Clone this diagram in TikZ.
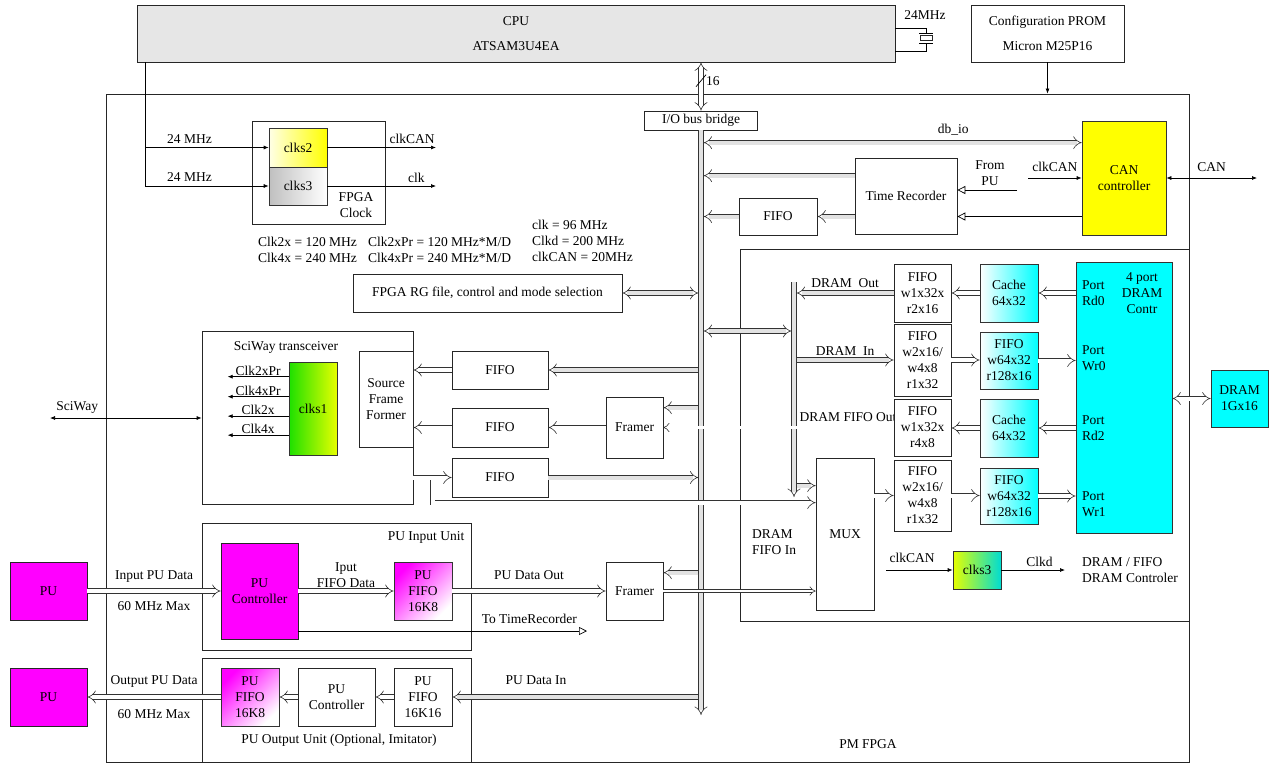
\documentclass[tikz,border=0pt]{standalone}
\usepackage{fontspec}
\setmainfont{Liberation Serif}
\usepackage{xcolor}
\definecolor{cpugray}{HTML}{E6E6E6}
\definecolor{busgray}{HTML}{E2E2E2}
\definecolor{edgegray}{HTML}{333333}
\definecolor{canyellow}{HTML}{FFFF00}
\definecolor{dramcyan}{HTML}{00FFFF}
\definecolor{pumag}{HTML}{FF00FF}
\definecolor{clkgreen}{HTML}{1EE000}
\definecolor{clklime}{HTML}{E6FF00}
\definecolor{clkteal}{HTML}{00DCD2}
\usepackage{tikz}
\usetikzlibrary{arrows.meta,positioning,calc}

\begin{document}
\begin{tikzpicture}[x=1pt,y=-1pt,
  font=\fontsize{13.5}{16}\selectfont,
  every node/.style={inner sep=1pt},
  sz/.style 2 args={minimum width=#1pt,minimum height=#2pt},
  box/.style={draw=black!85,line width=0.7pt,fill=white,align=center,inner sep=1pt},
  cbox/.style={box,draw=edgegray,left color=white,right color=dramcyan},
  mbox/.style={box,draw=edgegray,top color=pumag,bottom color=white,shading angle=45},
  bus/.style={draw=black!80,line width=0.6pt,double=busgray,double distance=4pt,-{Implies}},
  link/.style={bus,double=white},
  bibus/.style={bus,{Implies}-{Implies}},
  bilink/.style={link,{Implies}-{Implies}},
  thinlink/.style={link,double distance=2.6pt},
  arr/.style={line width=0.7pt,-{Latex[length=5pt,width=4pt]}},
  biarr/.style={line width=0.7pt,{Latex[length=5pt,width=4pt]}-{Latex[length=5pt,width=4pt]}},
  tri/.style={line width=0.7pt,-{Triangle[open,length=8pt,width=8pt]}}
]
\useasboundingbox (0,0) rectangle (1271,764);

% frames
\node[box,sz={1083}{668},line width=0.9pt] (fpga) at (647.5,428) {};
\node[box,sz={449}{372}] (drsys) at (964.5,435) {};
\node[box,sz={133}{103}] (clkbox) at (318.5,172.5) {};
\node[box,sz={211}{173}] (sci) at (307.5,417.5) {};
\node[box,sz={269}{127}] (puin) at (336.5,586.5) {};
\node[box,sz={269}{104}] (puout) at (336.5,710) {};

% outside the FPGA
\node[box,sz={758}{57},fill=cpugray] (cpu) at (516,33.5) {CPU\\[9pt]ATSAM3U4EA};
\node[box,sz={153}{57}] (prom) at (1047.5,33.5) {Configuration PROM\\[9pt]Micron M25P16};
\node at (925,15) {24MHz};
% crystal
\draw[line width=0.7pt] (cpu.east |- 0,28) -- (926,28) -- (926,33);
\draw[line width=0.7pt] (919,33) -- (933,33);
\node[box,sz={12}{5},inner sep=0pt] (xtal) at (926,38) {};
\draw[line width=0.7pt] (919,43) -- (933,43);
\draw[line width=0.7pt] (926,43) -- (926,51) -- (cpu.east |- 0,51);

\node[box,sz={77}{58},fill=pumag] (puA) at (48.5,591) {PU};
\node[box,sz={77}{58},fill=pumag] (puB) at (48.5,697) {PU};
\node[box,sz={57}{57},fill=dramcyan,draw=edgegray] (dram) at (1239.5,398.5) {DRAM\\1Gx16};

% clock block
\node[box,sz={58}{39},draw=edgegray,left color=yellow!10,right color=canyellow] (clks2) at (298,147.5) {clks2};
\node[box,sz={58}{38},draw=edgegray,left color=black!25,right color=white] (clks3) at (298,186) {clks3};
\node[align=center] at (356,205) {FPGA\\Clock};
\node[anchor=west,align=left] at (257,250) {Clk2x = 120 MHz\\Clk4x = 240 MHz};
\node[anchor=west,align=left] at (367,250) {Clk2xPr = 120 MHz*M/D\\Clk4xPr = 240 MHz*M/D};
\node[anchor=west,align=left] at (531,241) {clk = 96 MHz\\Clkd = 200 MHz\\clkCAN = 20MHz};

% bus bridge, CAN, time recorder
\node[box,sz={113}{19}] (bridge) at (701,120.5) {I/O bus bridge};
\node[box,sz={102}{76}] (tr) at (906,196) {Time Recorder};
\node[box,sz={78}{37}] (fifoT) at (778,216.5) {FIFO};
\node[box,sz={84}{114},draw=edgegray,fill=canyellow] (can) at (1124,178) {CAN\\controller};
\node[align=center] at (990,173) {From\\PU};
\node[box,sz={269}{38}] (rg) at (487.5,293) {FPGA RG file, control and mode selection};

% SciWay transceiver
\node at (286,347) {SciWay transceiver};
\node[box,sz={54}{96}] (sff) at (386,399) {Source\\Frame\\Former};
\node[box,sz={48}{93},draw=edgegray,left color=clkgreen,right color=clklime] (clks1) at (313,408.5) {clks1};
\node[box,sz={96}{38}] (fifoU) at (500,370) {FIFO};
\node[box,sz={96}{39}] (fifoM) at (500,427.5) {FIFO};
\node[box,sz={96}{39}] (fifoL) at (500,477.5) {FIFO};
\node[box,sz={57}{61}] (framerA) at (634.5,427.5) {Framer};
\node[box,sz={57}{58}] (framerB) at (634.5,591) {Framer};

% DRAM subsystem
\node at (848,417) {DRAM FIFO Out};
\node[box,sz={58}{152}] (mux) at (845,534) {MUX};
\node[anchor=west,align=left] at (751,542.5) {DRAM\\FIFO In};
\node[box,sz={57}{58}] (fifoA) at (922.5,293) {FIFO\\w1x32x\\r2x16};
\node[box,sz={57}{72}] (fifoB) at (922.5,360) {FIFO\\w2x16/\\w4x8\\r1x32};
\node[box,sz={57}{57}] (fifoC) at (922.5,427.5) {FIFO\\w1x32x\\r4x8};
\node[box,sz={57}{71}] (fifoD) at (922.5,495.5) {FIFO\\w2x16/\\w4x8\\r1x32};
\node[cbox,sz={58}{58}] (cacheA) at (1009,293) {Cache\\64x32};
\node[cbox,sz={58}{57}] (wfifoB) at (1009,360.5) {FIFO\\w64x32\\r128x16};
\node[cbox,sz={58}{58}] (cacheC) at (1009,428) {Cache\\64x32};
\node[cbox,sz={58}{56}] (wfifoD) at (1009,496) {FIFO\\w64x32\\r128x16};
\node[box,sz={96}{271},draw=edgegray,fill=dramcyan] (ctrl) at (1124,397.5) {};
\node[align=center] at (1142,293) {4 port\\DRAM\\Contr};
\foreach \py/\pname in {293/Rd0,358/Wr0,428/Rd2,504.5/Wr1}
  \node[anchor=west,align=left] at (1081,\py) {Port\\\pname};
\node[box,sz={48}{38},draw=edgegray,left color=clklime,right color=clkteal] (clks3b) at (977,570) {clks3};
\node[anchor=west,align=left] at (1081,570) {DRAM / FIFO\\DRAM Controler};

% PU units
\node at (426,537) {PU Input Unit};
\node[box,sz={77}{96},fill=pumag] (puc) at (259.5,591) {PU\\Controller};
\node[mbox,sz={58}{58}] (pufA) at (423,591) {PU\\FIFO\\16K8};
\node[mbox,sz={58}{58}] (pufB) at (250,697) {PU\\FIFO\\16K8};
\node[box,sz={77}{58}] (pucB) at (336.5,697) {PU\\Controller};
\node[box,sz={58}{58}] (pufK) at (423,697) {PU\\FIFO\\16K16};
\node at (339,740) {PU Output Unit (Optional, Imitator)};
\node at (868,744) {PM FPGA};

% main and DRAM buses
\coordinate (busend) at (701,715);
\coordinate (busL) at (698.4,0);
\coordinate (busR) at (703.6,0);
\draw[bus] (bridge.south) -- (busend);
\coordinate (sbtop) at (794,282);
\coordinate (sbend) at (794,497);
\coordinate (sbL) at (791.4,0);
\coordinate (sbR) at (796.6,0);
\draw[bus] (sbtop) -- (sbend);

% CPU side
\draw[bilink] (cpu.south -| bridge) -- coordinate[pos=0.38] (w16) (bridge.north);
\draw[line width=0.7pt] ([shift={(-5,6)}]w16) -- ([shift={(5,-6)}]w16);
\node[right=4pt] at (w16) {16};
\draw[arr] (prom.south) -- (prom.south |- fpga.north);
\coordinate (cpuclk) at (145,62);
\draw[arr] (cpuclk |- clks2) -- node[pos=0.36,above=3pt] {24 MHz} (clks2.west);
\draw[arr] (cpuclk) |- node[pos=0.68,above=3pt] {24 MHz} (clks3.west);
\coordinate (clkcano) at (436,147.5);
\coordinate (clko) at (436,186);
\draw[arr] (clks2.east) -- node[pos=0.78,above=3pt] {clkCAN} (clkcano);
\draw[arr] (clks3.east) -- node[pos=0.82,above=2.5pt] {clk} (clko);

% CAN and time recorder
\coordinate (dbio) at ([yshift=-22pt]can.north west);
\draw[bibus] (dbio -| busR) -- node[pos=0.66,above=6pt] {db\_io} (dbio);
\coordinate (trout) at ([yshift=-18pt]tr.north west);
\draw[bus] (trout) -- (trout -| busR);
\draw[bus] (tr.west |- fifoT) -- (fifoT.east);
\draw[bus] (fifoT.west) -- (fifoT.west -| busR);
\coordinate (frompu) at (1017,190);
\draw[tri] (frompu) -- (frompu -| tr.east);
\coordinate (clkcan) at (1028,178);
\draw[arr] (clkcan) -- node[above=5pt] {clkCAN} (clkcan -| can.west);
\draw[tri] (can.west |- fifoT) -- (tr.east |- fifoT);
\coordinate (canext) at (1257,178);
\draw[biarr] (can.east) -- node[above=5pt] {CAN} (canext);
\draw[bibus] (rg.east) -- (rg.east -| busL);

% DRAM subsystem links
\coordinate (xlink) at (703.6,331);
\draw[bibus] (xlink) -- (xlink -| sbL);
\draw[bus] (fifoA.west) -- node[above=4pt] {DRAM~~Out} (fifoA.west -| sbR);
\draw[bus] (fifoB.west -| sbR) -- node[above=3.5pt] {DRAM~~In} (fifoB.west);
\coordinate (muxa) at ([yshift=-28pt]mux.north west);
\draw[bus] (muxa -| sbR) -- (muxa);
\draw[link] (mux.east |- fifoD) -- (fifoD.west);
\draw[link] (ctrl.west |- cacheA) -- (cacheA.east);
\draw[link] (cacheA.west) -- (fifoA.east);
\draw[link] (fifoB.east) -- (fifoB.east -| wfifoB.west);
\draw[link] (wfifoB.east) -- (wfifoB.east -| ctrl.west);
\draw[link] (ctrl.west |- cacheC) -- (cacheC.east);
\draw[link] (cacheC.west) -- (cacheC.west -| fifoC.east);
\draw[link] (fifoD.east) -- (fifoD.east -| wfifoD.west);
\draw[link] (wfifoD.east) -- (wfifoD.east -| ctrl.west);
\draw[bilink] (ctrl.east |- dram) -- (dram.west);
\coordinate (clkcanb) at (886,570);
\coordinate (clkdout) at (1065,570);
\draw[arr] (clkcanb) -- node[pos=0.39,above=6pt] {clkCAN} (clks3b.west);
\draw[arr] (clks3b.east) -- node[pos=0.6,above=2.5pt] {Clkd} (clkdout);

% SciWay links
\coordinate (fra) at ([yshift=-11pt]framerA.north east);
\draw[bus] (fra -| busL) -- (fra);
\draw[thinlink] (fifoC.west) -- (framerA.east);
\draw[link] (framerA.west) -- (fifoM.east);
\draw[link] (fifoM.west) -- (fifoM.west -| sff.east);
\draw[bus] (fifoU.east -| busL) -- (fifoU.east);
\draw[link] (fifoU.west) -- (fifoU.west -| sff.east);
\draw[link] (fifoL.west -| sci.east) -- (fifoL.west);
\draw[bus] (fifoL.east) -- (fifoL.east -| busL);
\coordinate (brx) at (432.5,480);
\coordinate (muxb) at ([yshift=-45pt]mux.north west);
\draw[link] (brx) |- (muxb);
\foreach \dy/\lbl in {15/Clk2xPr,35/Clk4xPr,54.5/Clk2x,73.5/Clk4x}
  \draw[arr] ([yshift=-\dy]clks1.north west) -- ++(-61,0) node[midway,above=0pt] {\lbl};
\coordinate (sciext) at (50,418);
\draw[biarr] (sciext) -- node[pos=0.18,above=3.5pt] {SciWay} (sciext -| sci.west);

% PU links
\draw[link] (puA.east) -- node[above=7pt] {Input PU Data} node[below=9pt] {60 MHz Max} (puc.west);
\draw[link] (puc.east) -- node[above=2pt,align=center] {Iput\\FIFO Data} (pufA.west);
\draw[link] (pufA.east) -- node[above=10pt] {PU Data Out} (framerB.west);
\coordinate (frb) at ([yshift=-11pt]framerB.north east);
\draw[bus] (frb -| busL) -- (frb);
\draw[thinlink] (framerB.east) -- (framerB.east -| mux.west);
\coordinate (totr) at (587,631);
\draw[tri] ([yshift=-40]puc.east) -- node[pos=0.8,above=6pt] {To TimeRecorder} (totr);
\draw[bus] (pufK.east -| busL) -- node[pos=0.66,above=11pt] {PU Data In} (pufK.east);
\draw[link] (pufK.west) -- (pucB.east);
\draw[link] (pucB.west) -- (pufB.east);
\draw[link] (pufB.west) -- node[above=8.5pt] {Output PU Data} node[below=11pt] {60 MHz Max} (puB.east);
\end{tikzpicture}
\end{document}
